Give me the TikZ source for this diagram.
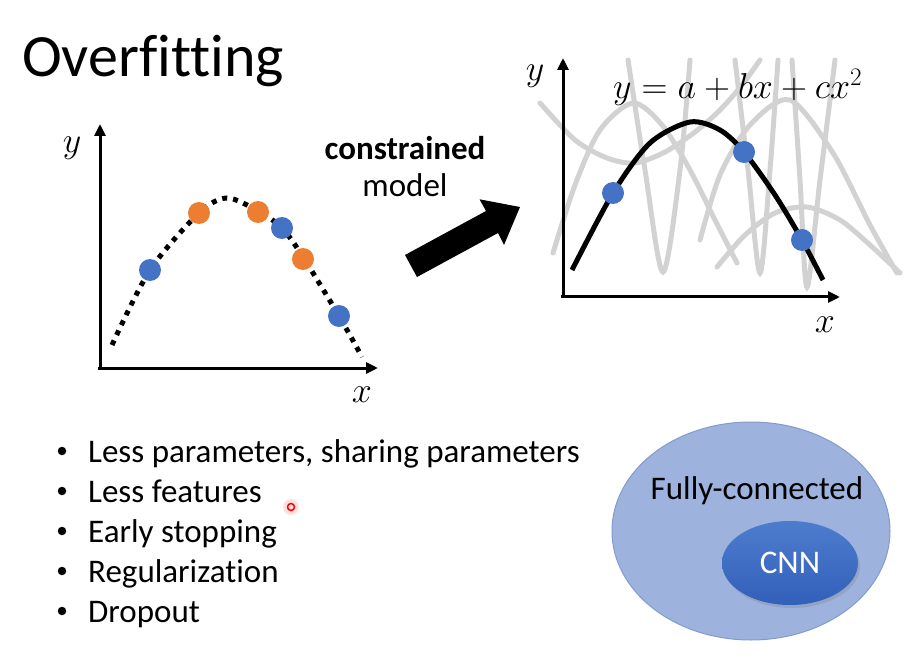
\RequirePackage{fix-cm}
\documentclass[tikz,border=0pt]{standalone}
\usepackage{fontspec}
\setmainfont{Carlito}[Ligatures={NoCommon,NoRequired,NoContextual}]
\usetikzlibrary{arrows.meta,shapes.geometric,shadows}
\definecolor{dotblue}{RGB}{68,114,196}
\definecolor{dotorange}{RGB}{237,125,49}
\definecolor{fitgray}{RGB}{210,210,210}
\definecolor{fcblue}{RGB}{157,179,222}
\definecolor{fcedge}{RGB}{130,155,205}
\definecolor{cnntop}{RGB}{78,124,205}
\definecolor{cnnbot}{RGB}{50,96,186}
\tikzstyle{axis}=[line width=3pt,-{Triangle[length=12pt,width=11pt]}]
\tikzstyle{bluedot}=[circle,fill=dotblue,inner sep=0pt,minimum size=22pt]
\tikzstyle{orangedot}=[circle,fill=dotorange,inner sep=0pt,minimum size=22pt]
\tikzstyle{fitcurve}=[line width=5pt,fitgray,line cap=round]
\tikzstyle{slidetext}=[font=\fontsize{33}{40}\selectfont,inner sep=0pt]
\tikzstyle{mathlabel}=[font=\fontsize{36}{42}\selectfont,inner sep=0pt]

\begin{document}
\begin{tikzpicture}[x=1pt,y=-1pt]
\useasboundingbox (0,0) rectangle (911,671);
\node[font=\fontsize{60}{70}\selectfont,inner sep=0pt,anchor=base west] (title) at (22,77) {Overfitting};
% left plot
\coordinate (lo) at (100,368);
\draw[axis] (100,370) -- (100,124);
\draw[axis] (98,368) -- (378,368);
\node[mathlabel] (ly) at (72,148) {$y$};
\node[mathlabel] (lx) at (362,395) {$x$};
\draw[line width=5pt,dash pattern=on 5pt off 6pt] plot[smooth] coordinates {(112,345) (150,270) (199,213) (227,198) (258,211) (282,228) (303,257) (339,316) (362,357)};
\node[bluedot] (l1) at (150,270) {};
\node[orangedot] (l2) at (199,213) {};
\node[orangedot] (l3) at (258,212) {};
\node[bluedot] (l4) at (282,228) {};
\node[orangedot] (l5) at (303,259) {};
\node[bluedot] (l6) at (339,316) {};
% arrow
\node[slidetext,font=\fontsize{33}{40}\selectfont\bfseries] (cons) at (405,148) {constrained};
\node[slidetext] (model) at (405,185) {model};
\coordinate (t1) at (405,255);
\coordinate (t2) at (417,277);
\coordinate (s2) at (498,233);
\coordinate (b2) at (504,245);
\coordinate (tip) at (520,207);
\coordinate (b1) at (479.5,199.3);
\coordinate (s1) at (486,211);
\fill (t1) -- (t2) -- (s2) -- (b2) -- (tip) -- (b1) -- (s1) -- cycle;
% right plot
\draw[fitcurve] plot[smooth] coordinates {(540,103) (575,140) (607,158) (635,163) (665,152) (695,132) (720,110) (742,85) (760,60)};
\draw[fitcurve] plot[smooth] coordinates {(553,253) (575,185) (600,130) (633,103) (662,125) (690,170) (715,220) (737,263)};
\draw[fitcurve] plot[smooth] coordinates {(628,60) (645,170) (663,272) (680,170) (690,60)};
\draw[fitcurve] plot[smooth] coordinates {(735,60) (748,170) (760,273) (770,170) (778,60)};
\draw[fitcurve] plot[smooth] coordinates {(792,60) (800,180) (807,287) (820,180) (835,60)};
\draw[fitcurve] plot[smooth] coordinates {(717,267) (745,235) (775,213) (807,207) (840,220) (870,245) (900,273)};
\draw[fitcurve] plot[smooth] coordinates {(700,240) (720,175) (750,125) (790,100) (833,153) (870,225) (897,273)};
\draw[axis] (563,298) -- (563,58);
\draw[axis] (561,297) -- (840,297);
\node[mathlabel] (ry) at (535,76) {$y$};
\node[mathlabel] (rx) at (825,325) {$x$};
\node[mathlabel,anchor=base west] (eq) at (613,99) {$y=a+bx+cx^2$};
\draw[line width=5pt] plot[smooth] coordinates {(572,270) (613,193) (650,143) (690,122) (720,130) (744,152) (775,195) (802,240) (823,280)};
\node[bluedot] (r1) at (613,193) {};
\node[bluedot] (r2) at (744,152) {};
\node[bluedot] (r3) at (802,240) {};
% bullets
\foreach \t [count=\i] in {{Less parameters, sharing parameters},Less features,Early stopping,Regularization,Dropout}{
  \node[circle,fill,inner sep=0pt,minimum size=8.5pt] (d\i) at (62,411+40*\i) {};
  \node[slidetext,anchor=base west] (b\i) at (88,422+40*\i) {\t};
}
\fill[red!20,opacity=.6] (291,507) circle (8);
\node[circle,draw=red,line width=1.5pt,minimum size=7pt,inner sep=0pt] (laser) at (291,507) {};
% sets
\node[ellipse,fill=fcblue,draw=fcedge,line width=1pt,minimum width=278pt,minimum height=218pt,inner sep=0pt] (fc) at (751,531) {};
\node[slidetext] (fclabel) at (757,491) {Fully-connected};
\node[ellipse,top color=cnntop,bottom color=cnnbot,minimum width=136pt,minimum height=84pt,inner sep=0pt,text=white,font=\fontsize{33}{40}\selectfont,drop shadow={shadow xshift=2pt,shadow yshift=-3pt,opacity=.3}] (cnn) at (790,563) {CNN};
\end{tikzpicture}
\end{document}
